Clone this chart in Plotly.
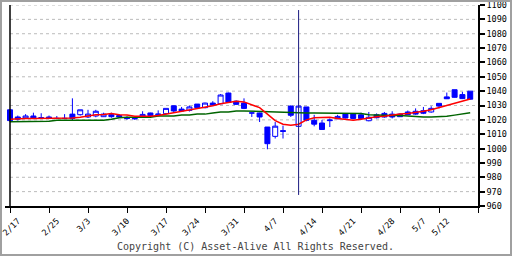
import plotly.graph_objects as go

dates = ["2/17","2/18","2/19","2/20","2/21",
         "2/25","2/26","2/27","2/28",
         "3/3","3/4","3/5","3/6","3/7",
         "3/10","3/11","3/12","3/13","3/14",
         "3/17","3/18","3/19","3/21",
         "3/24","3/25","3/26","3/27","3/28",
         "3/31","4/1","4/2","4/3","4/4",
         "4/7","4/8","4/9","4/10","4/11",
         "4/14","4/15","4/16","4/17","4/18",
         "4/21","4/22","4/23","4/24","4/25",
         "4/28","4/30","5/1","5/2",
         "5/7","5/8","5/9",
         "5/12","5/13","5/14","5/15","5/16"]

opens  = [1027, 1022, 1021.3, 1022.7, 1021.5, 1022, 1021, 1021, 1024, 1023.6,
          1022, 1022.7, 1022.2, 1023.6, 1023, 1021.5, 1021, 1022.4, 1024.8, 1023.5,
          1024.3, 1029.8, 1027.5, 1026.6, 1031, 1028.5, 1031.7, 1031.2, 1038.7, 1033,
          1031.7, 1024.8, 1024.8, 1015, 1008.5, 1012.5, 1029.6, 1015.5, 1029, 1019.7,
          1017.8, 1020, 1020.8, 1024, 1024, 1023.5, 1019.4, 1023.5, 1024.5, 1024,
          1024, 1025.5, 1026, 1026.4, 1025.5, 1031.5, 1036, 1041, 1037.6, 1040]
highs  = [1027.5, 1023, 1024, 1025, 1024.6, 1023, 1022.7, 1024, 1035, 1027,
          1027, 1027, 1025, 1025, 1024, 1022.5, 1021.5, 1026, 1025, 1026.6,
          1028, 1030, 1029, 1030, 1031, 1032, 1033, 1038, 1039, 1033.5,
          1035, 1025, 1025, 1015, 1018.5, 1016, 1030, 1030, 1029, 1023.5,
          1020, 1021, 1023.5, 1024, 1024, 1025, 1025.5, 1024.5, 1025.5, 1026,
          1024.5, 1026.5, 1028, 1029, 1029.5, 1031.5, 1039, 1041, 1039.5, 1040]
lows   = [1018.5, 1019.5, 1021, 1020.5, 1020.8, 1020.8, 1020.8, 1020.8, 1019.5, 1023,
          1021.3, 1021.8, 1022, 1021.5, 1021.5, 1020, 1020, 1022, 1022.5, 1022.4,
          1023.8, 1025, 1026, 1025.8, 1028, 1028, 1030, 1031, 1032, 1030.5,
          1027.5, 1022, 1018.5, 999.5, 1007, 1007, 1022, 1015, 1019, 1015.5,
          1013, 1015, 1020.5, 1021, 1020.5, 1020, 1019, 1021, 1021.5, 1021,
          1022, 1023.5, 1023.5, 1024, 1025, 1028, 1034.5, 1035.5, 1034.5, 1034]
closes = [1019.5, 1020.5, 1022.7, 1021, 1021.5, 1021, 1021, 1021, 1021, 1027,
          1024, 1026, 1024, 1022.2, 1022, 1021, 1020.8, 1023.8, 1023, 1024,
          1028, 1026.2, 1026.2, 1029, 1028.5, 1031.7, 1030.3, 1037.3, 1032.2, 1030.8,
          1028, 1024.8, 1022, 1003.4, 1015.6, 1012, 1023.2, 1029.6, 1019.7, 1017,
          1013.3, 1019.5, 1022.4, 1021.3, 1021, 1021, 1021.8, 1021.5, 1022, 1022,
          1022.2, 1023.6, 1024, 1024.6, 1028, 1029.6, 1034.7, 1035.7, 1034.8, 1034.4]

ma_short = [1020.5, 1021, 1021, 1021, 1021, 1021, 1021, 1021, 1021.3, 1021.8,
            1022.8, 1023.5, 1023.8, 1024.5, 1023.5, 1023.4, 1022.5, 1022.4, 1022.5, 1023,
            1024, 1024.5, 1025.7, 1027, 1028, 1029, 1029.8, 1031.2, 1032.2, 1033,
            1032.5, 1030.6, 1028.5, 1024, 1019.5, 1017, 1016.2, 1017, 1020, 1021.5,
            1021.8, 1021.8, 1021, 1020.5, 1019.7, 1020.5, 1021.5, 1022.2, 1022.5, 1023.5,
            1024, 1024.5, 1025, 1026, 1027, 1028.5, 1030.5, 1031.8, 1033, 1034.5]
ma_long = [1018.7, 1018.7, 1018.7, 1018.7, 1018.7, 1019, 1019.7, 1019.7, 1019.7, 1019.7,
           1019.7, 1019.7, 1019.7, 1020.4, 1021.5, 1021.8, 1021.8, 1021.8, 1021.8, 1022.7,
           1022.7, 1022.7, 1023.4, 1023.4, 1024, 1024, 1024.8, 1025.5, 1025.5, 1026.2,
           1026.2, 1026, 1025.8, 1025.6, 1025.5, 1025, 1025, 1024.8, 1024.8, 1024.8,
           1024.8, 1024.8, 1024.8, 1024.8, 1024.8, 1024.5, 1023.5, 1023.2, 1023, 1023,
           1023, 1022.5, 1022.3, 1022, 1022, 1022, 1022.5, 1023.3, 1024.2, 1025]

label_dates = ["2/17","2/25","3/3","3/10","3/17","3/24","3/31","4/7","4/14","4/21","4/28","5/7","5/12"]
y_ticks = list(range(960, 1101, 10))
cursor_date = "4/11"

x = list(range(len(dates)))
label_pos = [dates.index(d) + 1.0 for d in label_dates]
week_ticks = list(range(0, len(dates) + 1, 5))
cursor_x = dates.index(cursor_date)

BLUE = "#0000FF"
fig = go.Figure()
fig.add_trace(go.Candlestick(
    x=x, open=opens, high=highs, low=lows, close=closes,
    increasing=dict(line=dict(color=BLUE, width=1), fillcolor="white"),
    decreasing=dict(line=dict(color=BLUE, width=1), fillcolor=BLUE),
    whiskerwidth=0, hoverinfo="skip"))
fig.add_trace(go.Scatter(x=x, y=ma_long, mode="lines",
                         line=dict(color="#006400", width=1.5), hoverinfo="skip"))
fig.add_trace(go.Scatter(x=x, y=ma_short, mode="lines",
                         line=dict(color="#FF0000", width=1.5), hoverinfo="skip"))

shapes = []
for v in y_ticks[1:]:
    shapes.append(dict(type="line", xref="x", yref="y", x0=0, x1=len(dates), y0=v, y1=v,
                       line=dict(color="#BBBBBB", width=1, dash="3px,3px"), layer="below"))
shapes.append(dict(type="line", xref="x", yref="paper", x0=0, x1=0, y0=0, y1=1,
                   line=dict(color="black", width=1.5), layer="above"))
shapes.append(dict(type="line", xref="x", yref="y", x0=cursor_x, x1=cursor_x, y0=967.7, y1=1096.5,
                   line=dict(color="#1a1a80", width=1), layer="above"))

# figure border (in paper units, outside plot area)
L, R, T, B = 5, 34, 5, 50
PW, PH = 512 - L - R, 256 - T - B
shapes.append(dict(type="rect", xref="paper", yref="paper",
                   x0=(-L + 1) / PW, x1=(512 - L - 1) / PW,
                   y0=(-B + 1) / PH, y1=(256 - B - 1) / PH,
                   line=dict(color="#A0A0A0", width=2), fillcolor="rgba(0,0,0,0)"))

unit = (512 - 10 - R) / len(dates)
fig.update_layout(
    template="none",
    width=512, height=256,
    margin=dict(l=L, r=R, t=T, b=B, pad=0),
    paper_bgcolor="white", plot_bgcolor="white",
    showlegend=False,
    boxgap=0.2, boxgroupgap=0.2,
    shapes=shapes,
    xaxis=dict(range=[-(10 - L) / unit, len(dates)], rangeslider=dict(visible=False),
               tickmode="array", tickvals=label_pos, ticktext=label_dates,
               tickangle=-45, ticks="", ticklen=0, showgrid=False, zeroline=False,
               showline=True, linecolor="black", linewidth=1.5,
               tickfont=dict(family="DejaVu Sans Mono", size=8.5, color="black"),
               ticklabelstandoff=5, ticklabeloverflow="allow",
               minor=dict(tickmode="array", tickvals=week_ticks, ticks="outside",
                          ticklen=5, tickcolor="black", tickwidth=1, showgrid=False),
               automargin=False, fixedrange=True),
    yaxis=dict(range=[960, 1100.01], side="right", tickmode="array", tickvals=y_ticks,
               ticks="outside", ticklen=5, tickcolor="black", tickwidth=1.5,
               showgrid=False, zeroline=False, showline=True, linecolor="black", linewidth=1.5,
               tickfont=dict(family="DejaVu Sans Mono", size=8.5, color="black"),
               ticklabeloverflow="allow",
               automargin=False, fixedrange=True),
    annotations=[dict(text="Copyright (C) Asset-Alive All Rights Reserved.",
                      xref="paper", yref="paper", x=(255 - L) / PW, y=(206 - 246) / PH,
                      xanchor="center", yanchor="middle", showarrow=False,
                      font=dict(family="DejaVu Sans Mono", size=10, color="#444444"))],
)

fig.write_html("out.html")
